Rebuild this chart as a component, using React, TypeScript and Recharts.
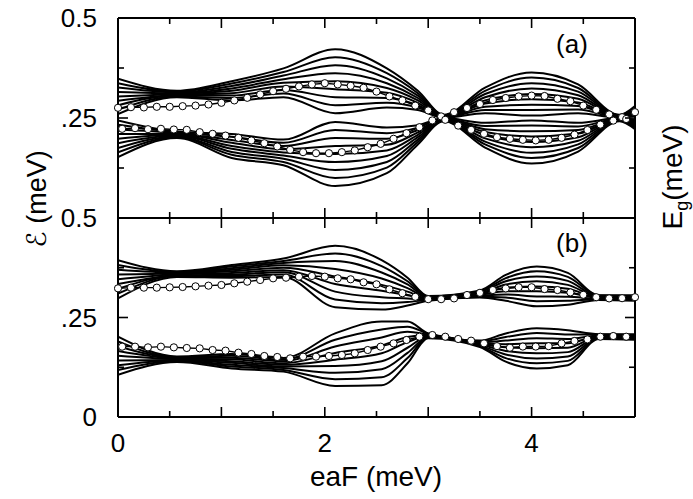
import React from "react";
import { LineChart, Line, XAxis, YAxis } from "recharts";

const FONT = "'Liberation Sans', Arial, Helvetica, 'DejaVu Sans', sans-serif";

// axis ticks
const fieldTicks = [0, 0.5, 1, 1.5, 2, 2.5, 3, 3.5, 4, 4.5, 5];
const fieldLabels: Record<string, string> = { "0": "0", "2": "2", "4": "4" };
const energyTicks = [0, 0.125, 0.25, 0.375, 0.5];
const energyLabelsA: Record<string, string> = { "0.5": "0.5", "0.25": ".25" };
const energyLabelsB: Record<string, string> = { "0.5": "0.5", "0.25": ".25", "0": "0" };

// circle positions (eaF, meV)
const circleXUpper = [
  0, 0.125, 0.25, 0.375, 0.5, 0.625, 0.75, 0.875, 1, 1.125, 1.25, 1.375, 1.5, 1.625,
  1.75, 1.875, 2, 2.125, 2.25, 2.375, 2.5, 2.625, 2.75, 2.875, 3, 3.125, 3.25, 3.375,
  3.5, 3.625, 3.75, 3.875, 4, 4.125, 4.25, 4.375, 4.5, 4.625, 4.75, 4.875, 5,
];
const circleXLower = [
  0.04, 0.165, 0.29, 0.415, 0.54, 0.665, 0.79, 0.915, 1.04, 1.165, 1.29, 1.415, 1.54,
  1.665, 1.79, 1.915, 2.04, 2.165, 2.29, 2.415, 2.54, 2.665, 2.79, 2.915, 3.04, 3.165,
  3.29, 3.415, 3.54, 3.665, 3.79, 3.915, 4.04, 4.165, 4.29, 4.415, 4.54, 4.665, 4.79, 4.915,
];

// panel (a) circles
const circlesUpperA = [
  0.2755, 0.277, 0.2765, 0.278, 0.278, 0.2796, 0.281, 0.2838, 0.288, 0.294, 0.3005,
  0.309, 0.317, 0.323, 0.329, 0.334, 0.337, 0.334, 0.3305, 0.3255, 0.316, 0.304, 0.294,
  0.281, 0.269, 0.254, 0.2645, 0.275, 0.285, 0.295, 0.3, 0.304, 0.306, 0.305, 0.298,
  0.292, 0.281, 0.2705, 0.259, 0.252, 0.2645,
];
const circlesLowerA = [
  0.223, 0.2246, 0.222, 0.223, 0.2212, 0.2204, 0.2146, 0.2104, 0.206, 0.2004, 0.1938,
  0.187, 0.1788, 0.1704, 0.1646, 0.162, 0.162, 0.1646, 0.169, 0.177, 0.1854, 0.198,
  0.212, 0.227, 0.244, 0.2455, 0.231, 0.2205, 0.2105, 0.202, 0.198, 0.1955, 0.194,
  0.1955, 0.2005, 0.2085, 0.22, 0.2335, 0.2435, 0.2475,
];

// panel (b) circles
const circlesUpperB = [
  0.3233, 0.325, 0.325, 0.325, 0.3258, 0.3266, 0.3283, 0.33, 0.3317, 0.3359, 0.34,
  0.3442, 0.3484, 0.35, 0.3526, 0.3543, 0.3526, 0.3484, 0.346, 0.3384, 0.3334, 0.3208,
  0.311, 0.302, 0.296, 0.296, 0.298, 0.3065, 0.312, 0.319, 0.323, 0.326, 0.326, 0.3215,
  0.319, 0.313, 0.307, 0.301, 0.298, 0.2985, 0.301,
];
const circlesLowerB = [
  0.1767, 0.1767, 0.175, 0.1767, 0.175, 0.1734, 0.1725, 0.1683, 0.1667, 0.1616, 0.1583,
  0.1533, 0.1508, 0.1474, 0.1516, 0.1516, 0.1533, 0.1558, 0.16, 0.1683, 0.1767, 0.185,
  0.1935, 0.2017, 0.206, 0.2017, 0.196, 0.1918, 0.185, 0.178, 0.174, 0.177, 0.177,
  0.178, 0.185, 0.191, 0.195, 0.2017, 0.2035, 0.2017,
];

// band levels: one row per field node, nine levels per row (bottom to top)
const nodesA = [0, 0.57, 1.1, 1.6, 2.1, 2.6, 2.9, 3.15, 3.55, 4.0, 4.45, 4.85, 5.0];
const upperBandA = [
  [0.26, 0.271, 0.282, 0.293, 0.304, 0.315, 0.326, 0.337, 0.348],
  [0.302, 0.304, 0.306, 0.308, 0.31, 0.312, 0.314, 0.316, 0.318],
  [0.294, 0.3, 0.306, 0.312, 0.318, 0.324, 0.33, 0.336, 0.342],
  [0.302, 0.311, 0.32, 0.329, 0.338, 0.347, 0.356, 0.365, 0.374],
  [0.262, 0.282, 0.302, 0.322, 0.342, 0.362, 0.382, 0.402, 0.422],
  [0.276, 0.288, 0.3, 0.313, 0.325, 0.337, 0.349, 0.362, 0.374],
  [0.27, 0.276, 0.282, 0.288, 0.294, 0.3, 0.306, 0.312, 0.318],
  [0.25, 0.251, 0.252, 0.253, 0.254, 0.255, 0.256, 0.257, 0.258],
  [0.262, 0.27, 0.278, 0.286, 0.294, 0.302, 0.31, 0.318, 0.326],
  [0.256, 0.27, 0.283, 0.297, 0.31, 0.324, 0.337, 0.351, 0.364],
  [0.262, 0.271, 0.28, 0.289, 0.298, 0.307, 0.316, 0.325, 0.334],
  [0.25, 0.251, 0.252, 0.253, 0.254, 0.255, 0.256, 0.257, 0.258],
  [0.256, 0.259, 0.262, 0.265, 0.268, 0.271, 0.274, 0.277, 0.28],
];
const lowerBandA = [
  [0.152, 0.164, 0.175, 0.187, 0.198, 0.21, 0.221, 0.233, 0.244],
  [0.2, 0.202, 0.204, 0.206, 0.208, 0.21, 0.212, 0.214, 0.216],
  [0.15, 0.158, 0.165, 0.173, 0.18, 0.188, 0.195, 0.203, 0.21],
  [0.132, 0.14, 0.148, 0.156, 0.164, 0.172, 0.18, 0.188, 0.196],
  [0.08, 0.1, 0.12, 0.14, 0.16, 0.18, 0.2, 0.22, 0.24],
  [0.112, 0.126, 0.14, 0.155, 0.169, 0.183, 0.198, 0.212, 0.226],
  [0.184, 0.19, 0.196, 0.202, 0.208, 0.214, 0.22, 0.226, 0.232],
  [0.242, 0.243, 0.244, 0.245, 0.246, 0.247, 0.248, 0.249, 0.25],
  [0.176, 0.184, 0.191, 0.199, 0.207, 0.215, 0.222, 0.23, 0.238],
  [0.136, 0.15, 0.163, 0.177, 0.19, 0.204, 0.217, 0.231, 0.244],
  [0.166, 0.175, 0.184, 0.193, 0.202, 0.211, 0.22, 0.229, 0.238],
  [0.242, 0.243, 0.244, 0.245, 0.246, 0.247, 0.248, 0.249, 0.25],
  [0.222, 0.225, 0.228, 0.231, 0.234, 0.237, 0.24, 0.243, 0.246],
];

const nodesB = [0, 0.57, 1.1, 1.6, 2.1, 2.55, 2.8, 3.0, 3.5, 3.75, 4.05, 4.35, 4.65, 5.0];
const upperBandB = [
  [0.298, 0.31, 0.322, 0.334, 0.346, 0.358, 0.37, 0.382, 0.394],
  [0.352, 0.354, 0.356, 0.357, 0.359, 0.361, 0.363, 0.364, 0.366],
  [0.35, 0.354, 0.358, 0.362, 0.366, 0.37, 0.374, 0.378, 0.382],
  [0.352, 0.358, 0.364, 0.369, 0.375, 0.381, 0.387, 0.392, 0.398],
  [0.276, 0.295, 0.315, 0.334, 0.353, 0.372, 0.392, 0.411, 0.43],
  [0.27, 0.286, 0.301, 0.317, 0.332, 0.348, 0.363, 0.379, 0.394],
  [0.28, 0.289, 0.298, 0.306, 0.315, 0.324, 0.333, 0.341, 0.35],
  [0.292, 0.294, 0.295, 0.297, 0.298, 0.3, 0.301, 0.303, 0.304],
  [0.3, 0.302, 0.305, 0.307, 0.309, 0.311, 0.314, 0.316, 0.318],
  [0.292, 0.3, 0.308, 0.316, 0.325, 0.333, 0.341, 0.349, 0.357],
  [0.278, 0.291, 0.303, 0.316, 0.328, 0.341, 0.353, 0.366, 0.378],
  [0.282, 0.292, 0.302, 0.312, 0.322, 0.332, 0.342, 0.352, 0.362],
  [0.294, 0.296, 0.297, 0.299, 0.3, 0.302, 0.303, 0.305, 0.306],
  [0.292, 0.294, 0.296, 0.297, 0.299, 0.301, 0.303, 0.304, 0.306],
];
const lowerBandB = [
  [0.106, 0.118, 0.13, 0.142, 0.154, 0.166, 0.178, 0.19, 0.202],
  [0.138, 0.14, 0.142, 0.143, 0.145, 0.147, 0.149, 0.15, 0.152],
  [0.122, 0.127, 0.131, 0.136, 0.14, 0.145, 0.149, 0.154, 0.158],
  [0.114, 0.118, 0.123, 0.127, 0.131, 0.135, 0.14, 0.144, 0.148],
  [0.078, 0.095, 0.111, 0.128, 0.144, 0.161, 0.177, 0.194, 0.21],
  [0.08, 0.1, 0.12, 0.14, 0.16, 0.18, 0.2, 0.22, 0.24],
  [0.135, 0.148, 0.161, 0.174, 0.188, 0.201, 0.214, 0.227, 0.24],
  [0.198, 0.2, 0.201, 0.203, 0.204, 0.206, 0.207, 0.209, 0.21],
  [0.176, 0.178, 0.18, 0.182, 0.184, 0.186, 0.188, 0.19, 0.192],
  [0.139, 0.148, 0.157, 0.166, 0.175, 0.183, 0.192, 0.201, 0.21],
  [0.122, 0.135, 0.147, 0.16, 0.173, 0.185, 0.198, 0.211, 0.223],
  [0.13, 0.141, 0.152, 0.163, 0.174, 0.185, 0.196, 0.207, 0.218],
  [0.196, 0.198, 0.199, 0.201, 0.202, 0.204, 0.205, 0.207, 0.208],
  [0.194, 0.196, 0.198, 0.199, 0.201, 0.203, 0.205, 0.206, 0.208],
];

type Pt = { x: number; y: number };

const toLevels = (nodes: number[], band: number[][]): Pt[][] =>
  band[0].map((_, k) => nodes.map((x, i) => ({ x, y: band[i][k] })));

const toPoints = (xs: number[], ys: number[]): Pt[] => ys.map((y, i) => ({ x: xs[i], y }));

const MAJOR = 10;
const MINOR = 6;
const FRAME = { stroke: "#000", strokeWidth: 2 };

function xTick(dir: number, labels?: Record<string, string>) {
  return (props: any) => {
    const { x, y, payload } = props;
    const v = payload.value as number;
    const len = Number.isInteger(v) ? MAJOR : MINOR;
    const label = labels ? labels[String(v)] : undefined;
    return (
      <g>
        <line x1={x} y1={y} x2={x} y2={y + dir * len} stroke="#000" strokeWidth={1.6} />
        {label !== undefined && (
          <text x={x} y={y + 26} dy="0.35em" textAnchor="middle" fontSize={26} fontFamily={FONT} fill="#000">
            {label}
          </text>
        )}
      </g>
    );
  };
}

function yTick(dir: number, labels?: Record<string, string>) {
  return (props: any) => {
    const { x, y, payload } = props;
    const v = payload.value as number;
    const len = v === 0.125 || v === 0.375 ? MINOR : MAJOR;
    const label = labels ? labels[String(v)] : undefined;
    return (
      <g>
        <line x1={x} y1={y} x2={x + dir * len} y2={y} stroke="#000" strokeWidth={1.6} />
        {label !== undefined && (
          <text x={x - 21} y={y} dy="0.35em" textAnchor="end" fontSize={26} fontFamily={FONT} fill="#000">
            {label}
          </text>
        )}
      </g>
    );
  };
}

type PanelProps = {
  top: number;
  height: number;
  marginBottom: number;
  xAxisHeight: number;
  upper: Pt[][];
  lower: Pt[][];
  circlesUp: Pt[];
  circlesLow: Pt[];
  yLabels: Record<string, string>;
  xLabels?: Record<string, string>;
};

function Panel(p: PanelProps) {
  const levels = [...p.upper, ...p.lower];
  return (
    <div style={{ position: "absolute", left: 0, top: p.top }}>
      <LineChart width={693} height={p.height} margin={{ top: 17, right: 57, bottom: p.marginBottom, left: 0 }}>
        <XAxis
          dataKey="x"
          type="number"
          domain={[0, 5]}
          allowDataOverflow
          ticks={fieldTicks}
          interval={0}
          height={p.xAxisHeight}
          tickLine={false}
          tickSize={0}
          tickMargin={0}
          axisLine={FRAME}
          tick={xTick(-1, p.xLabels)}
        />
        <XAxis
          xAxisId="top"
          orientation="top"
          dataKey="x"
          type="number"
          domain={[0, 5]}
          allowDataOverflow
          ticks={fieldTicks}
          interval={0}
          height={1}
          tickLine={false}
          tickSize={0}
          tickMargin={0}
          axisLine={FRAME}
          tick={xTick(1)}
        />
        <YAxis
          type="number"
          domain={[0, 0.5]}
          allowDataOverflow
          ticks={energyTicks}
          interval={0}
          width={118}
          tickLine={false}
          tickSize={0}
          tickMargin={0}
          axisLine={FRAME}
          tick={yTick(1, p.yLabels)}
        />
        <YAxis
          yAxisId="right"
          orientation="right"
          type="number"
          domain={[0, 0.5]}
          allowDataOverflow
          ticks={energyTicks}
          interval={0}
          width={1}
          tickLine={false}
          tickSize={0}
          tickMargin={0}
          axisLine={FRAME}
          tick={yTick(-1)}
        />
        {levels.map((pts, i) => (
          <Line
            key={`lvl${i}`}
            data={pts}
            dataKey="y"
            type="monotone"
            stroke="#000"
            strokeWidth={2}
            dot={false}
            activeDot={false}
            isAnimationActive={false}
          />
        ))}
        {/* keeps the mirrored top/right axes in use so the frame is closed */}
        <Line
          xAxisId="top"
          yAxisId="right"
          data={p.circlesUp}
          dataKey="y"
          stroke="none"
          dot={false}
          activeDot={false}
          isAnimationActive={false}
        />
        {[p.circlesUp, p.circlesLow].map((pts, i) => (
          <Line
            key={`circ${i}`}
            data={pts}
            dataKey="y"
            type="linear"
            stroke="#000"
            strokeWidth={1.4}
            dot={{ r: 3.6, fill: "#fff", stroke: "#000", strokeWidth: 1, clipDot: false } as any}
            activeDot={false}
            isAnimationActive={false}
          />
        ))}
      </LineChart>
    </div>
  );
}

export default function App() {
  return (
    <div style={{ position: "absolute", left: 0, top: 0, width: 693, height: 499, background: "#fff" }}>
      <Panel
        top={0}
        height={235}
        marginBottom={16}
        xAxisHeight={1}
        upper={toLevels(nodesA, upperBandA)}
        lower={toLevels(nodesA, lowerBandA)}
        circlesUp={toPoints(circleXUpper, circlesUpperA)}
        circlesLow={toPoints(circleXLower, circlesLowerA)}
        yLabels={energyLabelsA}
      />
      <Panel
        top={200}
        height={299}
        marginBottom={0}
        xAxisHeight={82}
        upper={toLevels(nodesB, upperBandB)}
        lower={toLevels(nodesB, lowerBandB)}
        circlesUp={toPoints(circleXUpper, circlesUpperB)}
        circlesLow={toPoints(circleXLower, circlesLowerB)}
        yLabels={energyLabelsB}
        xLabels={fieldLabels}
      />
      <svg width={693} height={499} style={{ position: "absolute", left: 0, top: 0, pointerEvents: "none" }}>
        <g fontFamily={FONT} fill="#000">
          <text transform="translate(37,199) rotate(-90)" textAnchor="middle" dy="0.35em" fontSize={27}>
            ℰ (meV)
          </text>
          <text transform="translate(672,177) rotate(-90)" textAnchor="middle" dy="0.35em" fontSize={28}>
            E<tspan fontSize={18} dy="6">g</tspan>
            <tspan dy="-6">(meV)</tspan>
          </text>
          <text x={572} y={44} dy="0.35em" textAnchor="middle" fontSize={26}>(a)</text>
          <text x={572} y={243} dy="0.35em" textAnchor="middle" fontSize={26}>(b)</text>
          <text x={376} y={476} dy="0.35em" textAnchor="middle" fontSize={28}>eaF (meV)</text>
        </g>
      </svg>
    </div>
  );
}
